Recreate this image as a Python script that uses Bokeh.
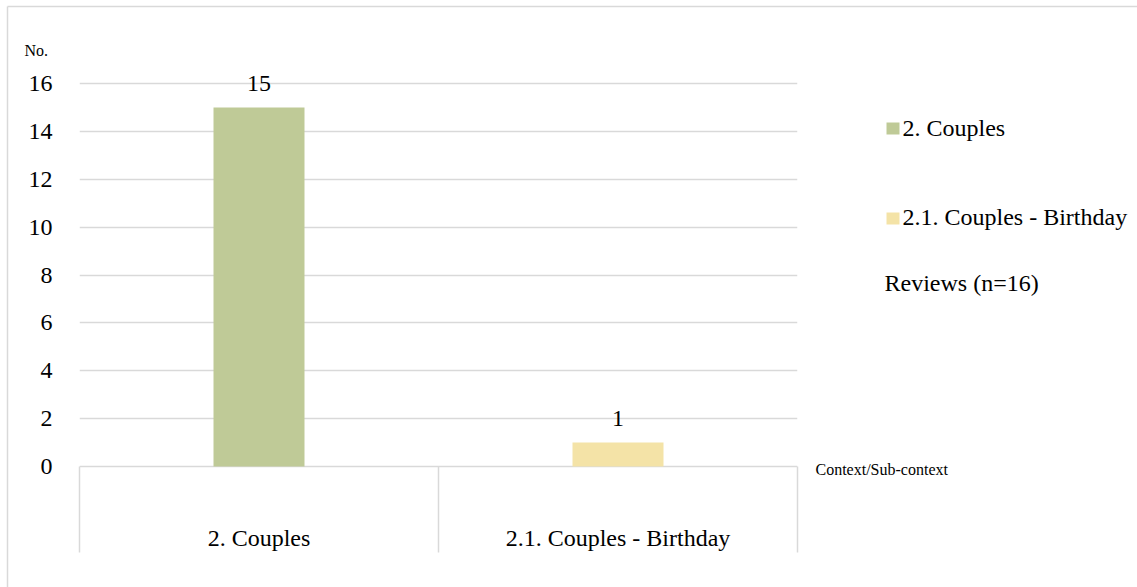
from bokeh.plotting import figure
from bokeh.models import Range1d, FixedTicker, ColumnDataSource, FactorRange
from bokeh.core.properties import value
from bokeh.embed import file_html
from bokeh.resources import INLINE

# ---- data -------------------------------------------------------------
categories = ["2. Couples", "2.1. Couples - Birthday"]
counts = [15, 1]
bar_colors = ["#BFCA97", "#F4E3A7"]
y_ticks = [0, 2, 4, 6, 8, 10, 12, 14, 16]
y_axis_title = "No."
x_axis_title = "Context/Sub-context"
series_note = "Reviews (n=16)"

# ---- layout (canvas pixels) --------------------------------------------
W, H = 1137, 587
FRAME_L, FRAME_R = 79, 797
FRAME_T, FRAME_B = 6, 587
ZERO_PX, TOP_PX = 466, 83          # rows where 0 and the top tick sit
PX_PER_UNIT = (ZERO_PX - TOP_PX) / y_ticks[-1]
PX_PER_CAT = (FRAME_R - FRAME_L) / len(categories)

FONT = "Liberation Serif"
GRID = "#D9D9D9"
TEXT = "#000000"


def px_to_y(row):
    """Canvas row -> value on the count axis."""
    return (ZERO_PX - row) / PX_PER_UNIT


def px_to_x(col):
    """Canvas column -> synthetic position on the category axis."""
    return (col - FRAME_L) / PX_PER_CAT


p = figure(
    width=W, height=H,
    x_range=FactorRange(*categories),
    y_range=Range1d(px_to_y(FRAME_B), px_to_y(FRAME_T)),
    output_backend="svg", toolbar_location=None, title=None,
    x_axis_location=None,
    min_border_left=FRAME_L, min_border_right=W - FRAME_R,
    min_border_top=FRAME_T, min_border_bottom=0,
)
p.outline_line_color = None
p.background_fill_color = "white"
p.border_fill_color = "white"

# y axis: labels only
ticker = FixedTicker(ticks=y_ticks)
p.yaxis.ticker = ticker
p.yaxis.axis_line_color = None
p.yaxis.major_tick_line_color = None
p.yaxis.minor_tick_line_color = None
p.yaxis.major_label_text_font = FONT
p.yaxis.major_label_text_font_size = "24px"
p.yaxis.major_label_text_color = TEXT
p.yaxis.major_label_standoff = 21

p.xgrid.grid_line_color = None
p.ygrid.ticker = ticker
p.ygrid.grid_line_color = GRID
p.ygrid.grid_line_width = 1.5

# bars
src = ColumnDataSource(dict(
    cat=categories, count=counts, color=bar_colors,
    label=[str(c) for c in counts],
))
p.vbar(x="cat", top="count", width=91 / 359, source=src,
       fill_color="color", line_color=None)

# value labels above the bars
p.text(x="cat", y="count", text="label", source=src,
       text_align="center", text_baseline="middle", y_offset=-24,
       text_font=value(FONT), text_font_size="24px", text_color=TEXT)

# category axis: separators and labels beneath the zero line
bounds = list(range(len(categories) + 1))
p.segment(x0=bounds, y0=[0] * len(bounds), x1=bounds,
          y1=[px_to_y(552)] * len(bounds),
          line_color=GRID, line_width=1.5, level="overlay")
p.text(x=categories, y=[px_to_y(537)] * len(categories), text=categories,
       text_align="center", text_baseline="middle",
       text_font=value(FONT), text_font_size="24px", text_color=TEXT)

# chart border (left and top edges)
p.segment(x0=[px_to_x(7), px_to_x(7)], y0=[px_to_y(6), px_to_y(6)],
          x1=[px_to_x(7), px_to_x(W + 10)], y1=[px_to_y(H + 10), px_to_y(6)],
          line_color=GRID, line_width=1.5, level="overlay")

# legend swatches
sw_top = [122, 212]
p.quad(left=[px_to_x(886)] * 2, right=[px_to_x(899)] * 2,
       top=[px_to_y(t) for t in sw_top], bottom=[px_to_y(t + 12) for t in sw_top],
       fill_color=bar_colors, line_color=None, level="overlay")


def canvas_text(texts, cols, rows, size):
    p.text(x=[px_to_x(c) for c in cols], y=[px_to_y(r) for r in rows], text=texts,
           text_align="left", text_baseline="middle",
           text_font=value(FONT), text_font_size=size, text_color=TEXT,
           level="overlay")


# legend entries and the note beneath them
canvas_text(categories + [series_note], [902, 902, 884], [127, 216, 282], "24px")
# axis titles
canvas_text([y_axis_title, x_axis_title], [24, 815], [50, 469], "16px")

open("out.html", "w").write(file_html(p, INLINE))
